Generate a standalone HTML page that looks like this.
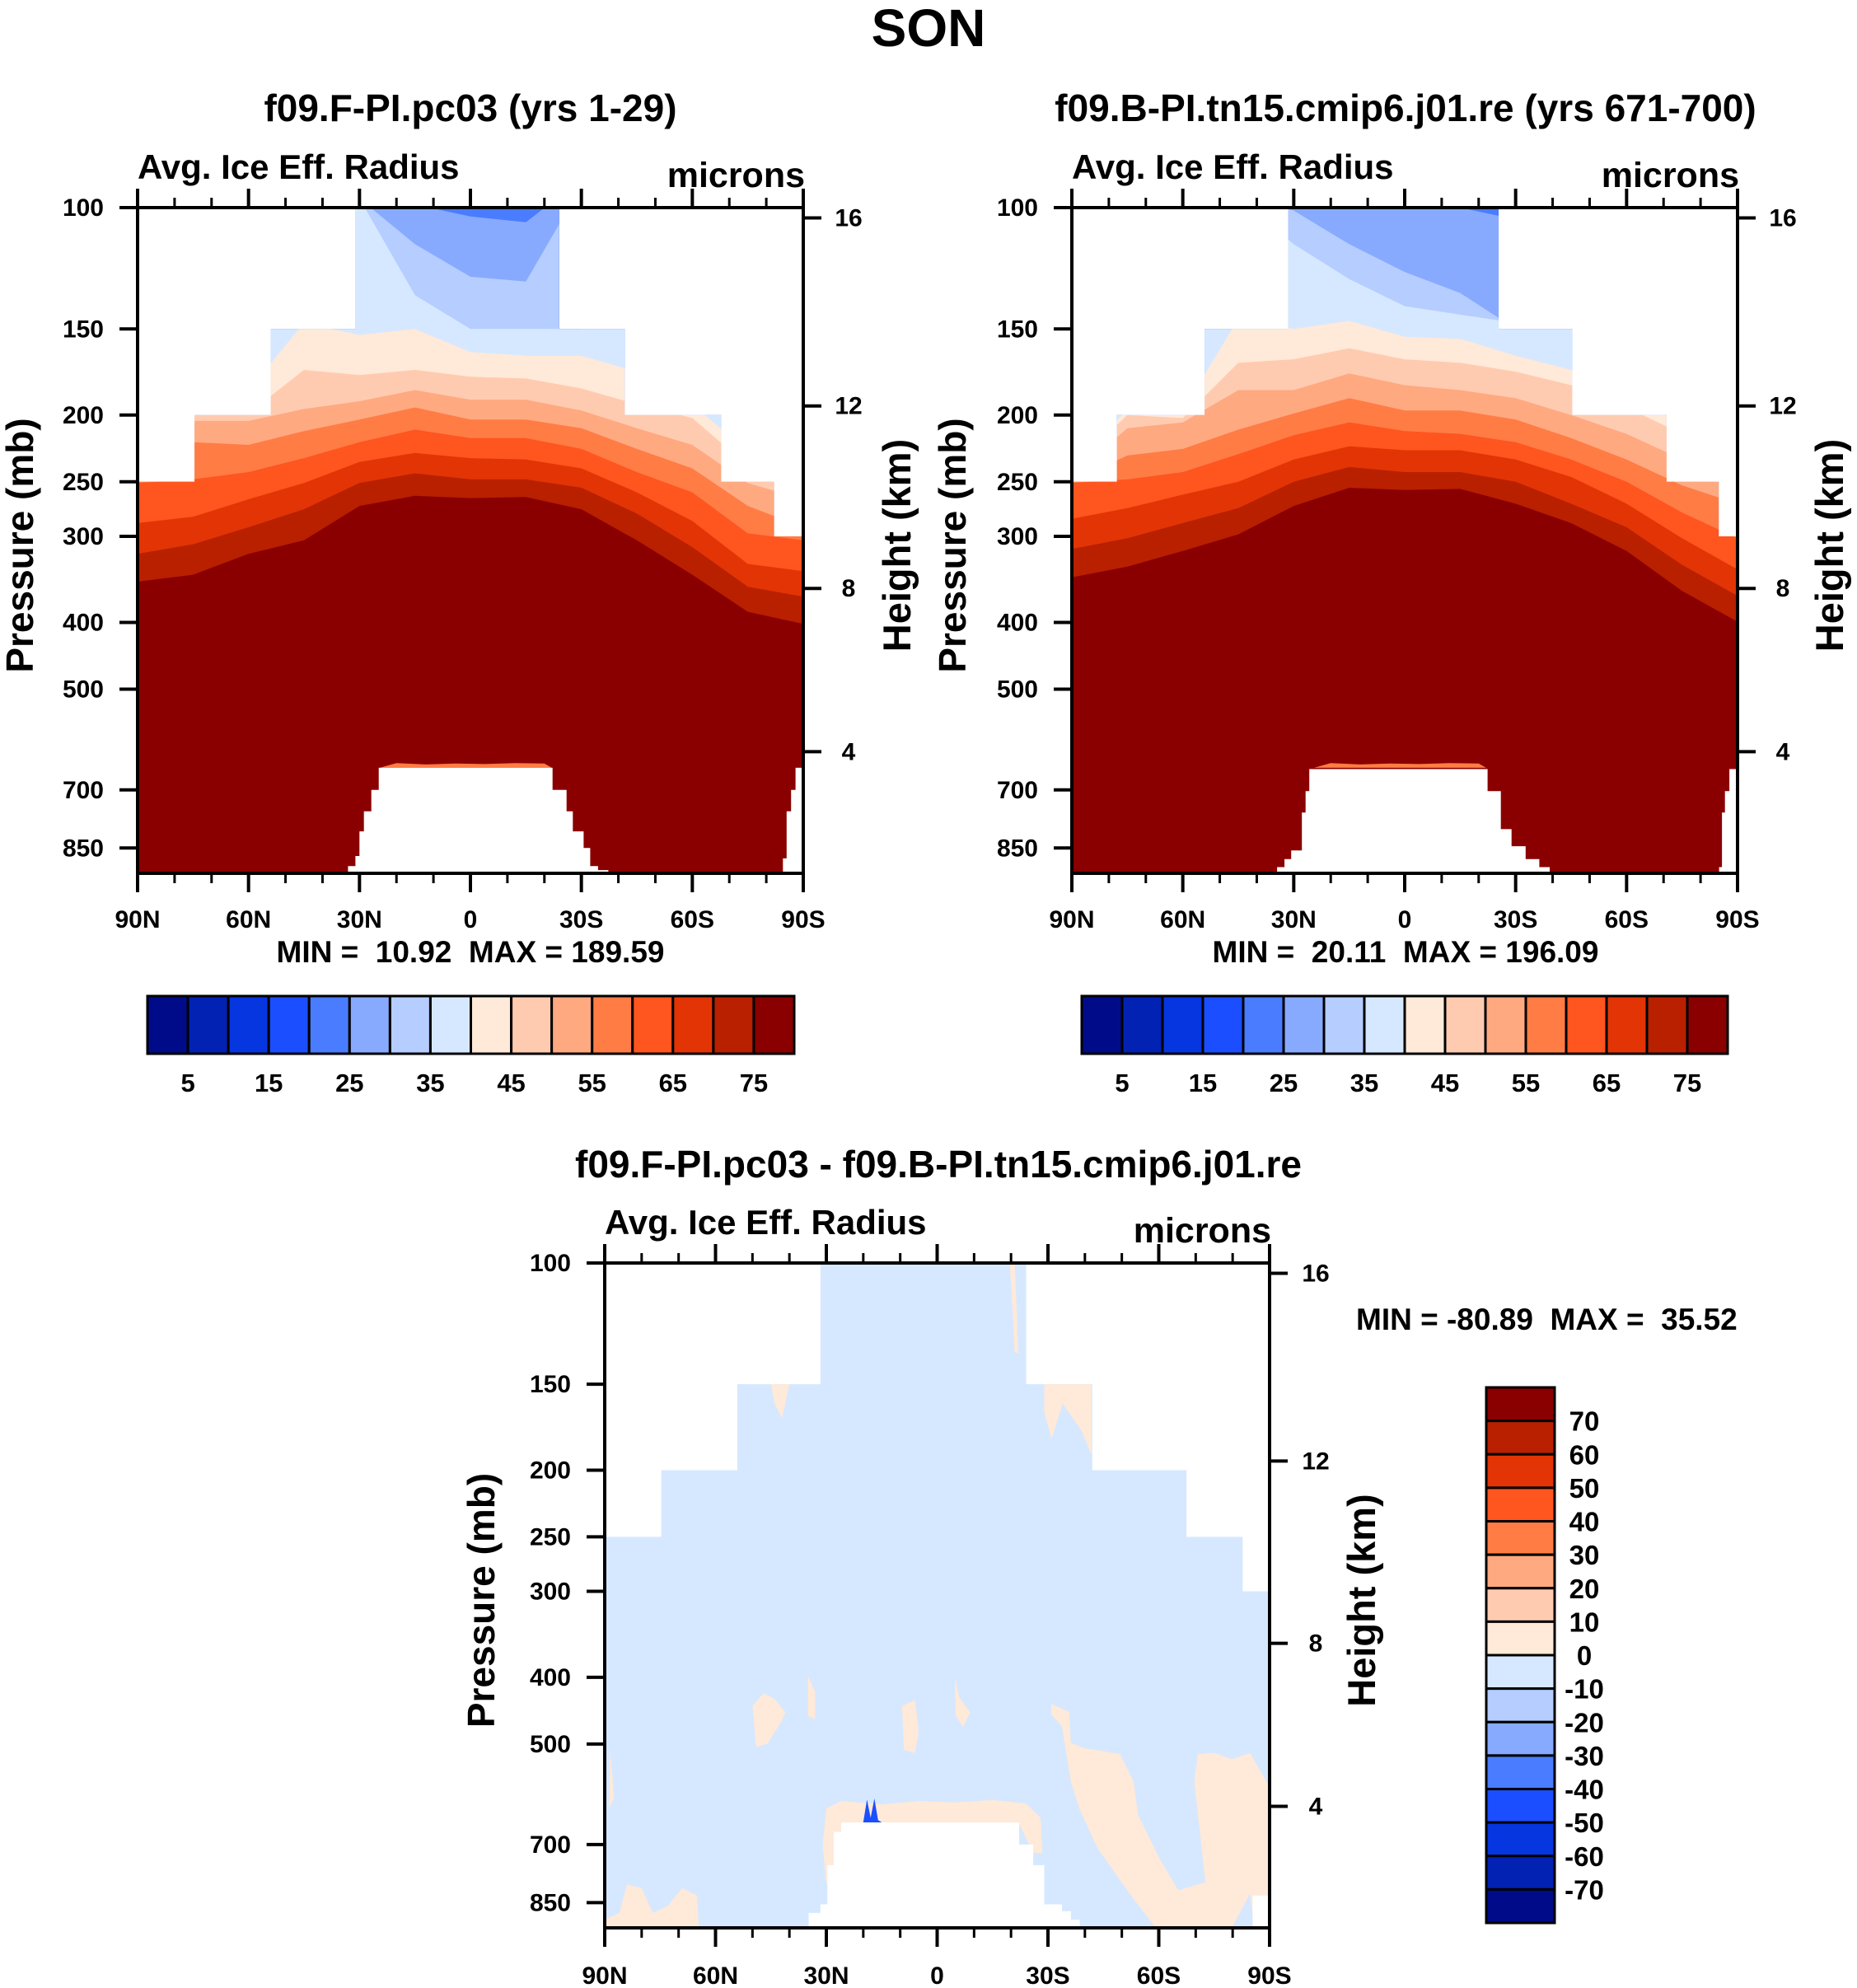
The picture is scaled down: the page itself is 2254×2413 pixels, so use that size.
<!DOCTYPE html>
<html><head><meta charset="utf-8">
<style>
html,body{margin:0;padding:0;background:#fff;}
svg{display:block;font-family:"Liberation Sans",Arial,sans-serif;font-weight:bold;}
</style></head>
<body>
<svg id="fig" width="2254" height="2413" viewBox="0 0 2254 2413" xmlns="http://www.w3.org/2000/svg">
<rect x="0" y="0" width="2254" height="2413" fill="#fff"/>
<text x="1127" y="56" font-size="64" text-anchor="middle">SON</text>
<text x="571" y="147" font-size="46" text-anchor="middle">f09.F-PI.pc03 (yrs 1-29)</text>
<text x="1706" y="147" font-size="46" text-anchor="middle">f09.B-PI.tn15.cmip6.j01.re (yrs 671-700)</text>
<text x="1139" y="1429" font-size="46" text-anchor="middle">f09.F-PI.pc03 - f09.B-PI.tn15.cmip6.j01.re</text>
<text x="571" y="1168" font-size="37" text-anchor="middle" xml:space="preserve">MIN =  10.92  MAX = 189.59</text>
<text x="1706" y="1168" font-size="37" text-anchor="middle" xml:space="preserve">MIN =  20.11  MAX = 196.09</text>
<text x="1646" y="1614" font-size="37" xml:space="preserve">MIN = -80.89  MAX =  35.52</text>
</svg>
<script>
const NS="http://www.w3.org/2000/svg";
const svg=document.getElementById('fig');

/* ---------- data ---------- */
const lats=[90,75,60,45,30,15,0,-15,-30,-45,-60,-75,-90];
const levels=[20,25,30,35,40,45,50,55,60,65,70,75];
const colors=['#000b8a','#0222b4','#0536e0','#1b4eff','#4a7cff','#87aaff','#b5cdff','#d6e8ff','#ffe9d8','#ffcbb0','#ffa981','#ff7c45','#ff551e','#e23405','#b82000','#8a0000'];
const cbTopLabels=[5,15,25,35,45,55,65,75];
const cbDiffLabels=[70,60,50,40,30,20,10,0,-10,-20,-30,-40,-50,-60,-70];
const pTicks=[100,150,200,250,300,400,500,700,850];
const hTicks=[16,12,8,4];
const hTickP=[103.5,194,357,616];
const latTicks=[90,60,30,0,-30,-60,-90];
const latTickLabels=['90N','60N','30N','0','30S','60S','90S'];

// panel A (F-PI) boundary pressures (mb) where each level is crossed, per latitude
const bndA=[
[97,97,97,97,97,97,97,97,91,91,91,91,91],
[97,97,97,97,97,99,103,105,91,91,91,91,91],
[97,97,97,97,97,113,126,128,93,93,93,93,93],
[97,97,97,97,97,134,150,150,150,125,97,97,97],
[221,188,184,147,153,150,162,164,164,173,193,226,242],
[237,197,199,172,175,172,176,177,183,193,202,237,248],
[242,204,204,196,191,184,190,190,197,209,221,251,265],
[248,219,221,211,203,195,203,203,209,224,239,271,291],
[251,248,242,231,219,210,216,216,224,242,259,297,304],
[287,281,265,251,234,227,231,232,239,259,285,329,337],
[318,308,291,274,251,243,248,248,255,278,311,355,367],
[349,341,318,304,271,262,264,263,274,304,341,386,402]];
// panel B (B-PI)
const bndB=[
[96,96,96,96,96,96,96,96,96,96,96,96,96],
[96,96,96,96,96,97,99,100,104,96,96,96,96],
[96,96,96,96,101,113,124,133,150,140,96,96,96],
[96,96,96,96,113,127,139,143,147,145,96,96,96],
[232,197,197,145,150,146,154,155,164,172,186,206,232],
[239,200,202,168,166,160,166,168,173,181,195,213,239],
[246,209,205,184,184,174,181,184,189,200,213,232,253],
[250,229,224,210,199,189,197,197,203,216,232,253,269],
[251,248,242,228,214,205,211,213,219,232,250,277,302],
[283,273,261,250,232,222,225,225,232,246,269,302,335],
[313,302,287,273,250,238,242,242,250,269,291,330,366],
[344,332,315,298,271,255,257,256,269,287,315,360,399]];

// data-top masks: latitude edges and top pressure per segment
const maskEdgesA=[90,74.6,54,31,-24,-41.7,-67.8,-82.1,-90];
const maskEdgesB=[90,77.8,54.1,31.5,-25.4,-45.3,-70.8,-84.9,-90];
const maskEdgesD=[90,74.7,54.1,31.6,-24.1,-42,-67.5,-82.7,-90];
const maskTopP=[250,200,150,100,150,200,250,300];

// orography (no data) outlines [lat, p]
const orogA=[
[[33.1,925],[33.1,903],[31.1,903],[31.1,873],[30,873],[30,804],[28.8,804],[28.8,752],[26.8,752],[26.8,700],[24.8,700],[24.8,650],[-22.2,650],[-22.2,700],[-26,700],[-26,752],[-27.7,752],[-27.7,804],[-30.6,804],[-30.6,850],[-32.4,850],[-32.4,903],[-34.5,903],[-34.5,915],[-37.3,915],[-37.3,925]],
[[-87.9,650],[-90,650],[-90,925],[-84.5,925],[-84.5,880],[-85.5,880],[-85.5,752],[-86.7,752],[-86.7,700],[-87.9,700]]];
const orogB=[
[[34.5,925],[34.5,906],[32.5,906],[32.5,882],[30.7,882],[30.7,857],[27.8,857],[27.8,755],[26.8,755],[26.8,703],[25.8,703],[25.8,653],[-22.4,653],[-22.4,703],[-26,703],[-26,798],[-28.9,798],[-28.9,845],[-32.7,845],[-32.7,882],[-36.4,882],[-36.4,906],[-39.2,906],[-39.2,925]],
[[-87.8,653],[-90,653],[-90,925],[-85,925],[-85,906],[-85.8,906],[-85.8,755],[-86.6,755],[-86.6,703],[-87.8,703]]];
const orogD=[
[[34.8,925],[34.8,880],[31.6,880],[31.6,855],[29.7,855],[29.7,750],[28,750],[28,671],[26,671],[26,650],[-22.2,650],[-22.2,700],[-26,700],[-26,750],[-29,750],[-29,855],[-33.8,855],[-33.8,875],[-36.2,875],[-36.2,900],[-38.6,900],[-38.6,925]],
[[-85.4,830],[-90,830],[-90,925],[-85.4,925]]];
const glowLat=[24.5,20,12,4,-4,-12,-20,-22];
const glowP=[650,640,643,641,642,640,641,650];

// difference panel: positive (0-10) patches over a -10..0 background
const diffPos=[
[[-30.9,437],[-35.7,449],[-36.2,498],[-39.8,507],[-49.5,517],[-53.2,567],[-54.4,634],[-60.4,737],[-65.3,816],[-72.6,794],[-71.3,684],[-69.6,567],[-70.6,517],[-75,515],[-79.8,526],[-84.7,515],[-88.3,557],[-90,578],[-90,925],[-85.9,925],[-84.7,824],[-79.8,925],[-59.2,925],[-53.2,840],[-43.5,710],[-38.6,623],[-36.2,567],[-33.8,471],[-30.9,453]],
[[50,440],[47,422],[44,430],[41,450],[43,472],[46,500],[49,505]],
[[35,398],[33,420],[33,460],[35,455]],
[[9.5,440],[6,432],[5,480],[6,515],[9,510]],
[[-4.8,400],[-6,428],[-9,450],[-7,472],[-5,455]],
[[90,900],[86,880],[84,800],[80,810],[77,880],[73,860],[69,810],[65,830],[64.5,925],[90,925]],
[[88.5,510],[87.5,600],[88.8,620]],
[[45,150],[40,150],[42,168],[44,160]],
[[-29,150],[-41.8,150],[-41.8,190],[-39,175],[-34,160],[-31,180],[-29,165]],
[[-19.7,100],[-21,100],[-22,135],[-21,135]],
[[31,700],[30,620],[26,605],[15,612],[5,605],[-5,608],[-15,603],[-24,610],[-28,640],[-28.5,720],[-26,720],[-22,650],[24.8,650],[26.5,700],[28,760],[30,800]]];
const diffNeg=[[[20,650],[19,602],[18,640],[17,600],[16,645],[15,650]]];

/* ---------- helpers ---------- */
function mk(tag,attrs,parent){const e=document.createElementNS(NS,tag);for(const k in attrs)e.setAttribute(k,attrs[k]);(parent||svg).appendChild(e);return e;}
function makeProj(x0,y0,w,h){return {x0,y0,w,h,
 X:lat=>x0+(90-lat)/180*w,
 Y:p=>y0+Math.log(p/100)/Math.log(9.25)*h};}
function polyPath(P,pts){return 'M'+pts.map(q=>P.X(q[0]).toFixed(1)+','+P.Y(q[1]).toFixed(1)).join(' L')+' Z';}

function drawPanel(P,id,bnd,edges,orog,isDiff,pLabX,pTitleX,hLabX,hTitleX,xLabY){
 const g=mk('g',{});
 
 
 const defs=mk('defs',{},g);
 const cp=mk('clipPath',{id:id+'-clip'},defs);
 let d='M'+P.X(edges[0])+','+P.Y(925);
 for(let i=0;i<maskTopP.length;i++){d+=' L'+P.X(edges[i])+','+P.Y(maskTopP[i])+' L'+P.X(edges[i+1])+','+P.Y(maskTopP[i]);}
 d+=' L'+P.X(edges[edges.length-1])+','+P.Y(925)+' Z';
 mk('path',{d:d},cp);
 const dg=mk('g',{'clip-path':'url(#'+id+'-clip)'},g);
 
 
 if(!isDiff){
  const base=mk('rect',{x:P.x0,y:P.y0,width:P.w,height:P.h,fill:colors[3]},dg);
  
  
  for(let k=0;k<levels.length;k++){
   let pd='M'+P.X(lats[0]).toFixed(1)+','+P.Y(bnd[k][0]).toFixed(1);
   for(let i=1;i<lats.length;i++)pd+=' L'+P.X(lats[i]).toFixed(1)+','+P.Y(bnd[k][i]).toFixed(1);
   pd+=' L'+P.X(-90)+','+P.Y(925)+' L'+P.X(90)+','+P.Y(925)+' Z';
   const band=mk('path',{d:pd,fill:colors[levels[k]/5]},dg);
   
   
  }
  const gp=glowLat.map((l,i)=>[l,glowP[i]]);
  const glow=mk('path',{d:polyPath(P,gp),fill:'#ff7c45'},dg);
  
  
 } else {
  const base=mk('rect',{x:P.x0,y:P.y0,width:P.w,height:P.h,fill:'#d6e8ff'},dg);
  
  
  diffPos.forEach(pt=>{const e=mk('path',{d:polyPath(P,pt),fill:'#ffe9d8'},dg);
   
   });
  diffNeg.forEach(pt=>{const e=mk('path',{d:polyPath(P,pt),fill:'#1b4eff'},dg);
   
   });
 }
 orog.forEach(pt=>{const e=mk('path',{d:polyPath(P,pt),fill:'#fff'},dg);
  
  });
 const fr=mk('rect',{x:P.x0,y:P.y0,width:P.w,height:P.h,fill:'none',stroke:'#000','stroke-width':4},g);
 
 
 for(let l=90;l>=-90;l-=10){
  const x=P.X(l); const len=(l%30===0)?23:12;
  mk('line',{x1:x,y1:P.y0,x2:x,y2:P.y0-len,stroke:'#000','stroke-width':(l%30===0)?4:3},g);
  mk('line',{x1:x,y1:P.y0+P.h,x2:x,y2:P.y0+P.h+len,stroke:'#000','stroke-width':(l%30===0)?4:3},g);
 }
 latTicks.forEach((l,i)=>{const t=mk('text',{x:P.X(l),y:xLabY,'font-size':30,'text-anchor':'middle'},g);t.textContent=latTickLabels[i];
  
  });
 pTicks.forEach(p=>{const y=P.Y(p);mk('line',{x1:P.x0-22,y1:y,x2:P.x0,y2:y,stroke:'#000','stroke-width':4},g);
  const t=mk('text',{x:pLabX,y:y+10,'font-size':30,'text-anchor':'end'},g);t.textContent=p;
  
  });
 hTicks.forEach((h,i)=>{const y=P.Y(hTickP[i]);mk('line',{x1:P.x0+P.w,y1:y,x2:P.x0+P.w+22,y2:y,stroke:'#000','stroke-width':4},g);
  const t=mk('text',{x:hLabX,y:y+10,'font-size':30,'text-anchor':'middle'},g);t.textContent=h;
  
  });
 const cy=P.y0+P.h/2+6;
 const pt=mk('text',{x:pTitleX,y:cy,'font-size':46,'text-anchor':'middle',transform:'rotate(-90 '+pTitleX+' '+cy+')'},g);
 pt.textContent='Pressure (mb)';
 
 
 const ht=mk('text',{x:hTitleX,y:cy,'font-size':47,'text-anchor':'middle',transform:'rotate(-90 '+hTitleX+' '+cy+')'},g);
 ht.textContent='Height (km)';
 
 
 const lt=mk('text',{x:P.x0,y:P.y0-35,'font-size':42},g);lt.textContent='Avg. Ice Eff. Radius';
 
 
 const ut=mk('text',{x:P.x0+P.w+2,y:P.y0-25,'font-size':43,'text-anchor':'end'},g);ut.textContent='microns';
 
 
}

const PA=makeProj(167,252,808,808);
const PB=makeProj(1301,252,808,808);
const PD=makeProj(734,1533,807,807);
drawPanel(PA,'left',bndA,maskEdgesA,orogA,false,126,40,1030,1105,1126);
drawPanel(PB,'right',bndB,maskEdgesB,orogB,false,1260,1172,2164,2237,1126);
drawPanel(PD,'diff',null,maskEdgesD,orogD,true,693,600,1597,1669,2408);

/* ---------- colorbars ---------- */
function hBar(x0,y0,w,h,name){
 const g=mk('g',{});
 
 
 const bw=w/colors.length;
 colors.forEach((c,i)=>{const r=mk('rect',{x:x0+i*bw,y:y0,width:bw,height:h,fill:c,stroke:'#000','stroke-width':3},g);
  
  });
 cbTopLabels.forEach(v=>{const i=v/5;const t=mk('text',{x:x0+i*bw,y:y0+h+46,'font-size':31,'text-anchor':'middle'},g);t.textContent=v;
  
  });
}
hBar(179,1209,785,70,'left-colorbar');
hBar(1313,1209,784,70,'right-colorbar');
(function(){
 const x0=1804,y0=1684,w=83,h=650;const bh=h/16;
 const g=mk('g',{});
 
 
 for(let i=0;i<16;i++){const r=mk('rect',{x:x0,y:y0+i*bh,width:w,height:bh,fill:colors[15-i],stroke:'#000','stroke-width':3},g);
  
  }
 cbDiffLabels.forEach((v,i)=>{const t=mk('text',{x:1923,y:y0+(i+1)*bh+12,'font-size':33,'text-anchor':'middle'},g);t.textContent=v;
  
  });
})();
</script>
</body></html>
